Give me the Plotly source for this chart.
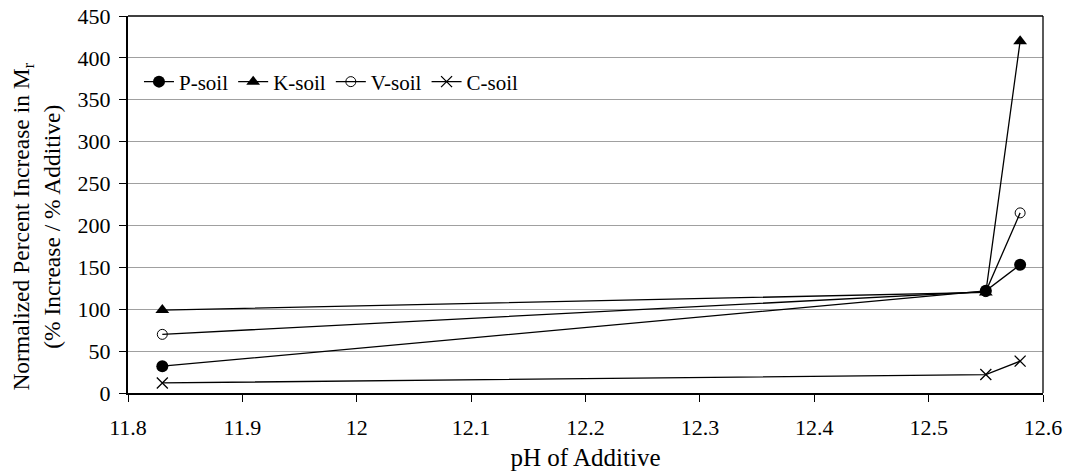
import plotly.graph_objects as go

# pH of each additive
ph = [11.83, 12.55, 12.58]

# Normalized percent increase in Mr (% increase / % additive)
p_soil = [32, 122, 153]
k_soil = [99, 120, 420]
v_soil = [70, 121, 215]
c_soil = [12, 22, 38]

x_ticks = [11.8, 11.9, 12.0, 12.1, 12.2, 12.3, 12.4, 12.5, 12.6]
x_tick_text = ["11.8", "11.9", "12", "12.1", "12.2", "12.3", "12.4", "12.5", "12.6"]
y_ticks = [0, 50, 100, 150, 200, 250, 300, 350, 400, 450]

y_title = "Normalized Percent Increase in M<sub>r</sub><br>(% Increase / % Additive)"
x_title = "pH of Additive"

FONT = "'Times New Roman', 'Liberation Serif', serif"

series = [
    ("P-soil", p_soil, dict(symbol="circle", size=12, color="black")),
    ("K-soil", k_soil, dict(symbol="triangle-up", size=12, color="black")),
    ("V-soil", v_soil, dict(symbol="circle-open", size=10, color="black", line=dict(width=1, color="black"))),
    ("C-soil", c_soil, dict(symbol="x-thin", size=11, color="black", line=dict(width=1.3, color="black"))),
]

fig = go.Figure()
for name, vals, marker in series:
    fig.add_trace(go.Scatter(
        x=ph, y=vals, name=name, mode="lines+markers",
        line=dict(color="black", width=1.3),
        marker=marker,
    ))

fig.update_layout(
    width=1074, height=476,
    margin=dict(l=128, r=31, t=16, b=83),
    paper_bgcolor="white", plot_bgcolor="white",
    font=dict(family=FONT, size=22, color="black"),
    showlegend=True,
    legend=dict(
        orientation="h", x=0.012, y=0.825, xanchor="left", yanchor="middle",
        bgcolor="rgba(0,0,0,0)", font=dict(family=FONT, size=21),
        itemwidth=30, tracegroupgap=0, itemsizing="trace",
    ),
    xaxis=dict(
        range=[11.8, 12.6], tickvals=x_ticks, ticktext=x_tick_text,
        showgrid=False, zeroline=False, automargin=False,
        showline=True, linecolor="black", linewidth=2,
        ticks="outside", ticklen=7, tickcolor="black", tickwidth=1,
        ticklabelstandoff=7,
        title=dict(text=x_title, font=dict(family=FONT, size=25), standoff=9),
        tickfont=dict(family=FONT, size=22),
    ),
    yaxis=dict(
        range=[0, 450], tickvals=y_ticks,
        showgrid=True, gridcolor="#a0a0a0", gridwidth=1,
        zeroline=False, automargin=False,
        showline=True, linecolor="black", linewidth=2,
        ticks="outside", ticklen=7, tickcolor="black", tickwidth=1,
        ticklabelstandoff=4,
        tickfont=dict(family=FONT, size=22),
    ),
)

# two-line y-axis title, set a little below the vertical middle of the plot
fig.add_annotation(
    text=y_title, textangle=-90, showarrow=False,
    xref="paper", yref="paper", x=-0.1, y=0.44,
    xanchor="center", yanchor="middle",
    font=dict(family=FONT, size=23.5, color="black"),
)

# thin frame on the top and right sides of the plot area
fig.add_shape(type="line", xref="paper", yref="paper", x0=0, x1=1, y0=1, y1=1,
              line=dict(color="black", width=1.3))
fig.add_shape(type="line", xref="paper", yref="paper", x0=1, x1=1, y0=0, y1=1,
              line=dict(color="black", width=1.3))

fig.write_html("out.html")
